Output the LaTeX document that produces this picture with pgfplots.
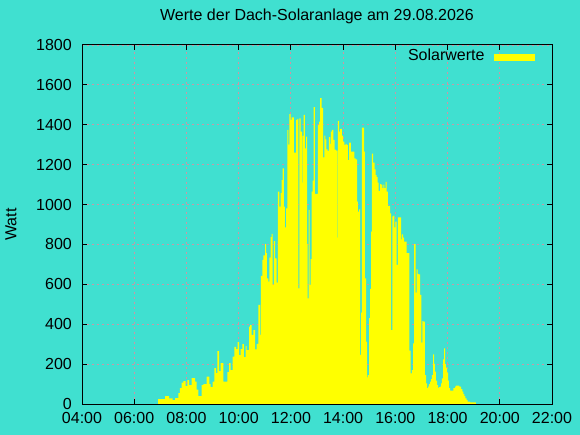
\documentclass[border=0pt]{standalone}
\usepackage{fontspec}
\setmainfont{Liberation Sans}
\usepackage{pgfplots}
\pgfplotsset{compat=1.18}
\definecolor{bg}{RGB}{64,224,208}
\definecolor{sunyellow}{RGB}{255,255,0}
\definecolor{gridc}{RGB}{205,150,165}
\pgfplotsset{layers/mylayers/.define layer set={axis background,axis grid,main,axis ticks,axis lines,axis tick labels,axis descriptions,axis foreground}{}}
\begin{document}
\begin{tikzpicture}
\fill[bg] (-82bp,-31bp) rectangle (498bp,404bp);
\begin{axis}[
  set layers=mylayers,
  at={(0,0)}, anchor=south west,
  scale only axis, width=470bp, height=359bp,
  xmin=4, xmax=22, ymin=0, ymax=1800,
  xtick={4,6,...,22},
  xticklabels={04:00,06:00,08:00,10:00,12:00,14:00,16:00,18:00,20:00,22:00},
  ytick={0,200,...,1800},
  font=\fontsize{16bp}{19bp}\selectfont,
  /pgf/number format/assume math mode=true,
  /pgf/number format/set thousands separator={},
  tick align=inside, major tick length=5bp,
  tick style={black, line width=1bp},
  axis line style={black, line width=1bp},
  grid=major,
  major grid style={gridc, line width=0.8bp, dash pattern=on 2bp off 3bp},
  yticklabel style={anchor=east, inner sep=0pt, xshift=-10bp},
  xticklabel style={anchor=north, inner sep=0pt, yshift=-7.7bp},
  title={Werte der Dach-Solaranlage am 29.08.2026},
  title style={at={(0.5,1)}, anchor=base, yshift=18.4bp, inner sep=0pt},
  ylabel={Watt},
  ylabel style={at={(axis description cs:0,0.5)}, anchor=center, rotate=0, yshift=71bp},
  legend plot pos=right,
  legend style={at={(1,1)}, anchor=north east, xshift=-17.3bp, yshift=-3.3bp,
    draw=none, fill=none, inner sep=0pt, column sep=9bp,
    nodes={inner sep=0pt, anchor=base}},
  legend image code/.code={\fill[sunyellow] (0bp,-0.5bp) rectangle (41bp,6.2bp);},
]
\addplot[fill=sunyellow, draw=none, const plot mark left] coordinates {
(6.911,25) (7.179,40) (7.332,28) (7.474,20) (7.562,30) (7.688,55) (7.753,80)
(7.818,107) (7.880,115) (7.972,90) (8.033,120) (8.098,95) (8.201,130) (8.328,112)
(8.393,72) (8.454,40) (8.584,95) (8.646,100) (8.776,137) (8.875,100) (8.929,85)
(9.006,112) (9.067,180) (9.132,155) (9.182,265) (9.247,165) (9.312,205) (9.411,112)
(9.565,160) (9.630,205) (9.695,170) (9.771,237) (9.833,287) (9.898,275) (9.963,310)
(10.013,245) (10.078,275) (10.139,300) (10.204,235) (10.269,290) (10.308,270) (10.396,388)
(10.434,396) (10.499,346) (10.560,371) (10.626,274) (10.691,301) (10.752,497) (10.817,346)
(10.855,642) (10.905,722) (10.943,745) (11.009,802) (11.047,756) (11.085,630) (11.135,614)
(11.173,734) (11.227,837) (11.265,853) (11.303,597) (11.353,817) (11.392,730) (11.457,609)
(11.506,1065) (11.556,990) (11.610,1057) (11.648,1123) (11.686,1182) (11.736,990) (11.774,886)
(11.813,981) (11.863,1374) (11.901,1300) (11.939,1454) (11.993,1425) (12.031,1437) (12.119,1260)
(12.196,1425) (12.246,1430) (12.284,580) (12.322,1432) (12.376,1366) (12.426,1110) (12.452,1344)
(12.491,1450) (12.540,1282) (12.579,1340) (12.617,802) (12.644,530) (12.682,973) (12.720,597)
(12.759,726) (12.797,1065) (12.835,1120) (12.874,1488) (12.923,1053) (13.038,1400) (13.077,1416)
(13.115,1533) (13.180,1485) (13.230,1237) (13.280,1346) (13.318,1327) (13.356,1277) (13.410,1269)
(13.459,1338) (13.498,1304) (13.536,1366) (13.574,1374) (13.624,1324) (13.678,1276) (13.728,1270)
(13.778,834) (13.804,1419) (13.843,1366) (13.881,1380) (13.957,1346) (13.996,1316) (14.045,1299)
(14.099,1304) (14.137,1299) (14.187,1223) (14.226,1311) (14.302,1265) (14.352,1265) (14.429,1232)
(14.482,1226) (14.532,1015) (14.570,964) (14.609,976) (14.647,246) (14.685,458) (14.723,1386)
(14.800,1265) (14.838,630) (14.877,312) (14.915,134) (14.953,145) (14.992,430) (15.030,577)
(15.068,864) (15.106,1255) (15.145,1210) (15.210,1177) (15.248,1148) (15.286,1137) (15.325,1110)
(15.363,1068) (15.413,1103) (15.451,1100) (15.501,1082) (15.539,1100) (15.577,1082) (15.631,1114)
(15.669,1065) (15.719,993) (15.796,956) (15.834,371) (15.884,941) (15.922,945) (15.960,886)
(15.999,914) (16.052,697) (16.102,936) (16.217,826) (16.255,851) (16.294,834) (16.332,814)
(16.435,756) (16.535,267) (16.588,154) (16.638,170) (16.677,304) (16.715,802) (16.780,558)
(16.818,675) (16.857,652) (16.895,650) (16.945,547) (16.995,308) (17.033,416) (17.071,413)
(17.136,145) (17.175,104) (17.213,79) (17.251,87) (17.289,100) (17.328,112) (17.366,125)
(17.404,145) (17.443,249) (17.481,201) (17.519,162) (17.557,117) (17.596,95) (17.634,79)
(17.672,84) (17.711,87) (17.749,104) (17.787,129) (17.826,224) (17.864,279) (17.902,200)
(17.940,182) (17.979,157) (18.017,117) (18.055,79) (18.094,67) (18.220,79) (18.285,87)
(18.323,92) (18.450,87) (18.515,74) (18.565,62) (18.603,50) (18.641,40) (18.680,28)
(18.733,20) (18.771,12) (18.860,8) (19.089,0)
} \closedcycle;
\addlegendentry{Solarwerte}
\end{axis}
\pgfresetboundingbox
\useasboundingbox (-82bp,-31bp) rectangle (498bp,404bp);
\end{tikzpicture}
\end{document}
